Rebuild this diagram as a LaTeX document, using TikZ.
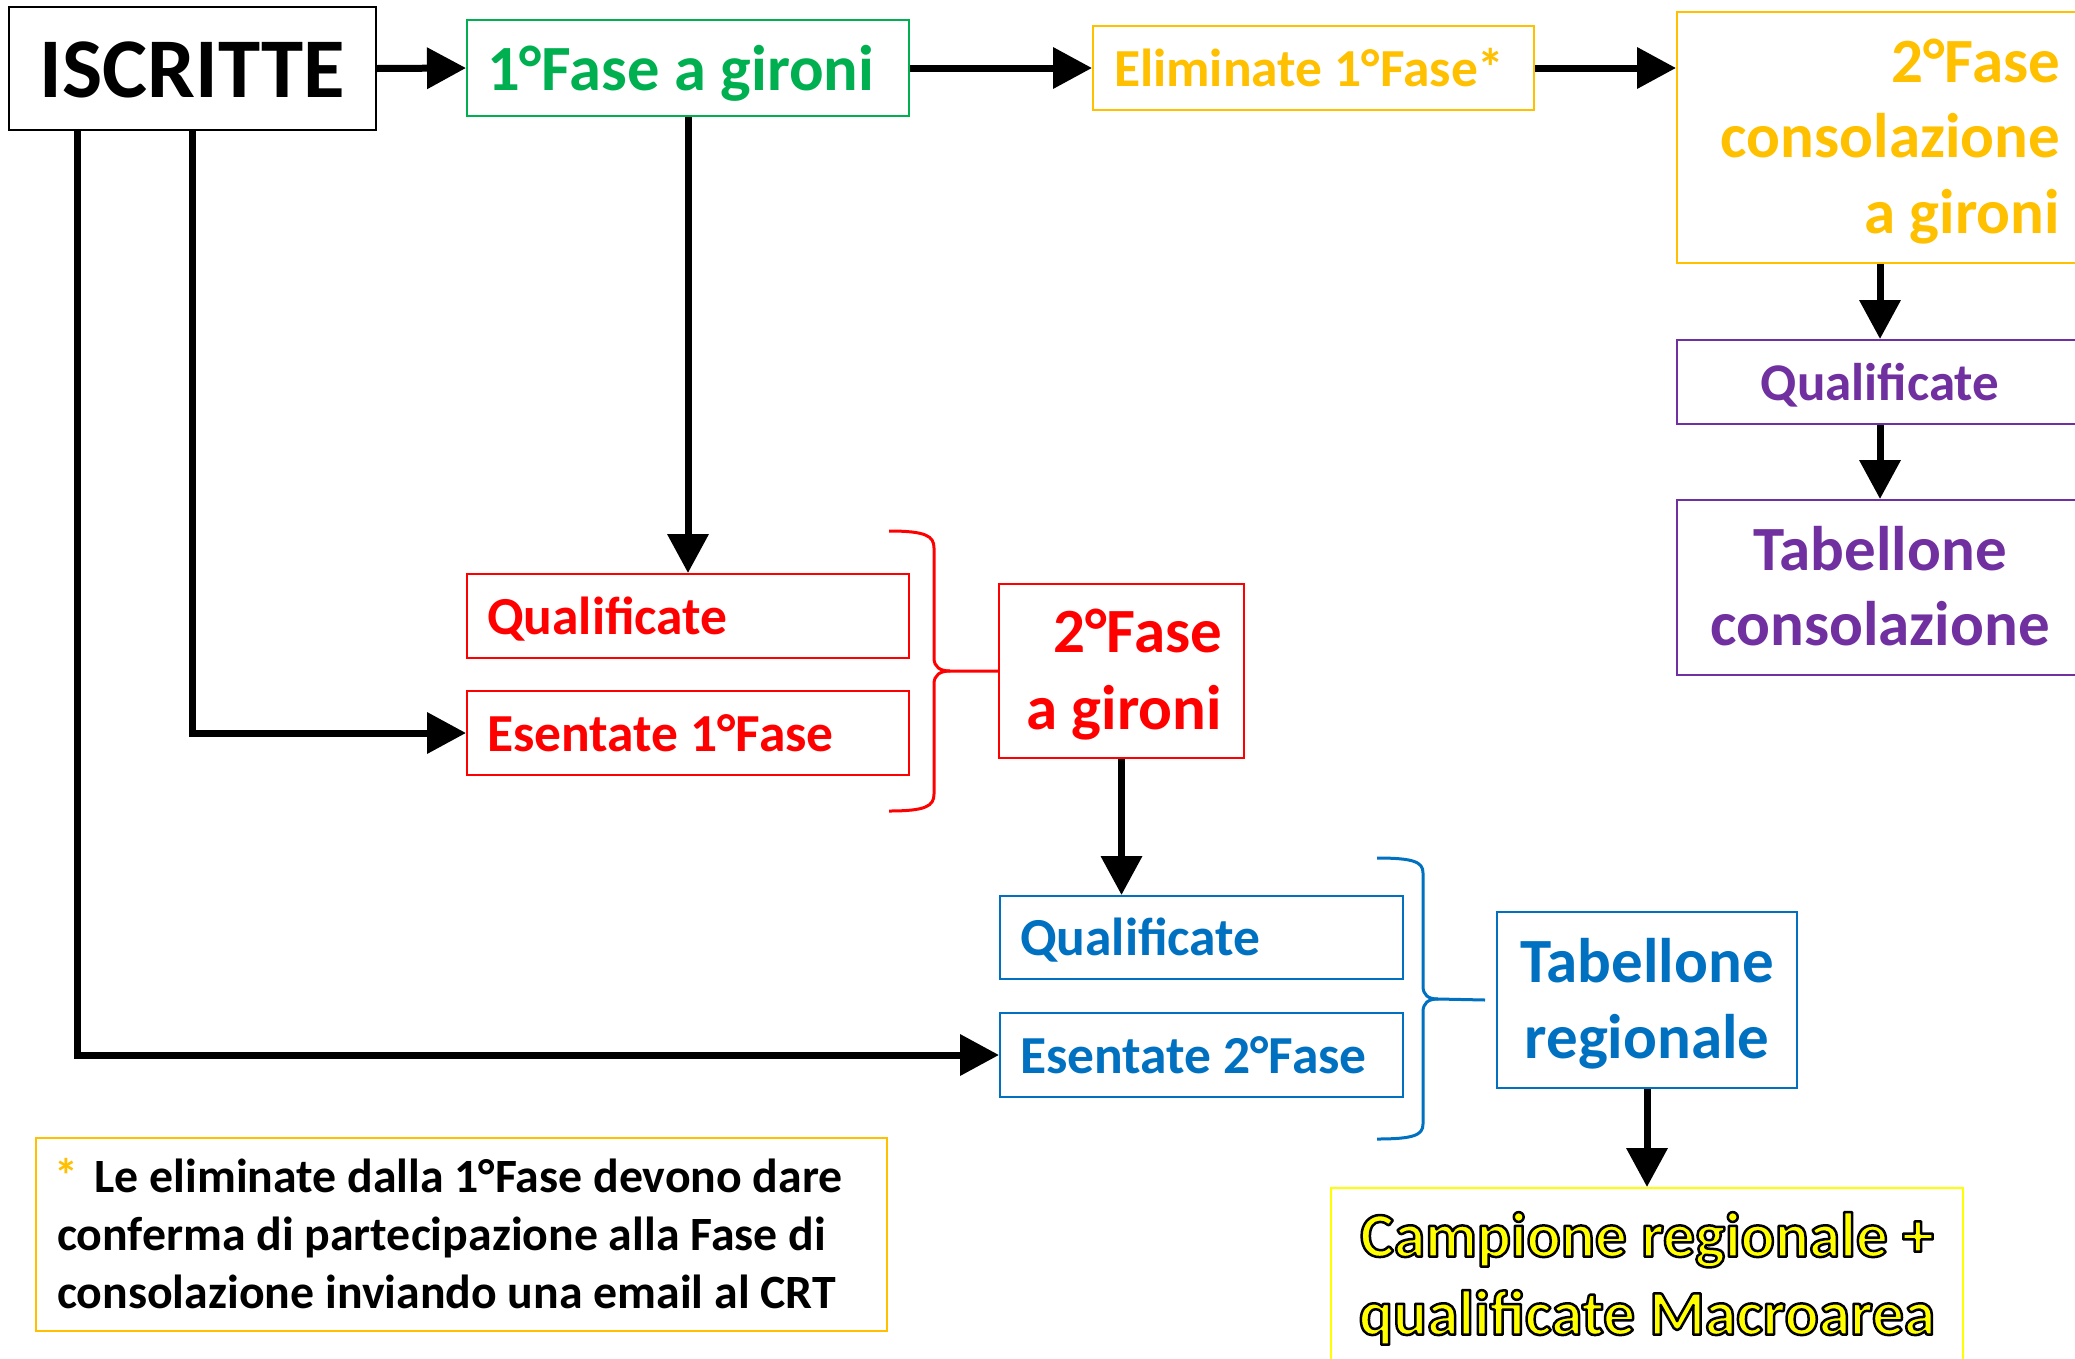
\documentclass[tikz,border=0pt]{standalone}
\usepackage{fontspec}
\setmainfont{Carlito}
\usetikzlibrary{arrows.meta,calc}
\definecolor{cgreen}{HTML}{00B050}
\definecolor{corange}{HTML}{FFC000}
\definecolor{cred}{HTML}{FF0000}
\definecolor{cblue}{HTML}{0070C0}
\definecolor{cpurple}{HTML}{7030A0}
\definecolor{cyellow}{HTML}{FFFF00}
\newcommand\mystrut{\rule[-0.25em]{0pt}{1.15em}}
\newcommand\outl[1]{\special{pdf:literal direct 2 Tr 2.5 w 1 j 0 0 0 RG}#1\special{pdf:literal direct 0 Tr}}
\newcommand\lline[2]{\makebox[#1][l]{#2}}
\newcommand\rline[2]{\makebox[#1][r]{#2}}
\begin{document}
\begin{tikzpicture}[x=1pt,y=-1pt,
  box/.style={draw, line width=2pt, inner sep=0pt, outer sep=1pt},
  fs/.style args={#1/#2}{font=\bfseries\fontsize{#1}{#2}\selectfont},
  onel/.style={text height=#1, text depth=0pt},
  arr/.style={line width=7pt, -{Triangle[length=39pt,width=40pt]}},
  brace/.style={line width=3pt}]
\path[fill=white, use as bounding box] (0,0) rectangle (2075,1358);

% nodes
\node[box, draw=black, minimum width=367pt, minimum height=123pt, onel=57pt, fs=85/100] (isc) at (192.5,68.5) {ISCRITTE};
\node[box, minimum width=442pt, minimum height=96pt, draw=cgreen, text=cgreen, onel=44pt, fs=64.5/75] (g1) at (688,68) {\lline{402pt}{1°Fase a gironi}};
\node[box, minimum width=441pt, minimum height=84pt, draw=corange, text=corange, onel=36pt, fs=53.5/64] (elim) at (1313.5,68) {\lline{399pt}{Eliminate 1°Fase*}};
\node[box, align=center, minimum width=406pt, minimum height=251pt, draw=corange, text=corange, fs=63/75.5] (cons) at (1880,137.5) {\rline{360pt}{\mystrut 2°Fase}\\\rline{360pt}{consolazione}\\\rline{360pt}{a gironi\mystrut}};
\node[box, minimum width=406pt, minimum height=84pt, draw=cpurple, text=cpurple, onel=36pt, fs=53/62] (pq) at (1880,382) {Qualificate};
\node[box, align=center, minimum width=406pt, minimum height=175pt, draw=cpurple, text=cpurple, fs=63/75] (tc) at (1880,587.5) {\mystrut Tabellone\\consolazione\mystrut};

\node[box, minimum width=442pt, minimum height=84pt, draw=cred, text=cred, onel=36pt, fs=53.5/62] (rq) at (688,616) {\lline{402pt}{Qualificate}};
\node[box, minimum width=442pt, minimum height=84pt, draw=cred, text=cred, onel=36pt, fs=53.5/62] (res) at (688,733) {\lline{402pt}{Esentate 1°Fase}};
\node[box, align=center, minimum width=245pt, minimum height=174pt, draw=cred, text=cred, fs=63/77] (r2) at (1121.5,671) {\rline{201pt}{\mystrut 2°Fase}\\\rline{201pt}{a gironi\mystrut}};

\node[box, minimum width=403pt, minimum height=83pt, draw=cblue, text=cblue, onel=36pt, fs=53.5/62] (bq) at (1201.5,937.5) {\lline{363pt}{Qualificate}};
\node[box, minimum width=403pt, minimum height=84pt, draw=cblue, text=cblue, onel=36pt, fs=53.5/62] (bes) at (1201.5,1055) {\lline{363pt}{Esentate 2°Fase}};
\node[box, align=center, minimum width=300pt, minimum height=176pt, draw=cblue, text=cblue, fs=63/76] (tr) at (1647,1000) {\mystrut Tabellone\\regionale\mystrut};

\node[box, align=center, minimum width=632pt, minimum height=174pt, draw=cyellow, text=cyellow, fs=63.5/78] (camp) at (1647,1275) {\mystrut\outl{Campione regionale +}\\\outl{qualificate Macroarea}\mystrut};

\node[box, align=center, minimum width=851pt, minimum height=193pt, draw=corange, text=black, fs=47.8/58] (foot) at (461.5,1234.5) {\lline{809pt}{\hspace{-3pt}\mystrut{\color{corange}*}\hspace{0.35em}Le eliminate dalla 1°Fase devono dare}\\\lline{809pt}{conferma di partecipazione alla Fase di}\\\lline{809pt}{consolazione inviando una email al CRT\mystrut}};

% connectors
\draw[arr] (isc.east) -- (g1.west);
\draw[arr] (g1.east) -- (elim.west);
\draw[arr] (elim.east) -- (elim.east -| cons.west);
\draw[arr] (cons.south) -- (pq.north);
\draw[arr] (pq.south) -- (tc.north);
\draw[arr] (g1.south) -- (rq.north);
\draw[arr] (isc.south) |- (res.west);
\draw[arr] ([xshift=69pt]isc.south west) |- (bes.west);
\draw[arr] (r2.south) -- (r2.south |- bq.north);
\draw[arr] (tr.south) -- (camp.north);

% braces
\coordinate (rbt) at (889,531);
\coordinate (rbb) at (889,811);
\coordinate (rbtip) at (950,671);
\draw[brace, cred] (rbt) .. controls (926,531) and (934,536) .. (934,548) -- (934,658) .. controls (934,667) and (940,671) .. (rbtip) -- (r2.west);
\draw[brace, cred] (rbb) .. controls (926,811) and (934,806) .. (934,794) -- (934,684) .. controls (934,675) and (940,671) .. (rbtip);
\coordinate (bbt) at (1377,858);
\coordinate (bbb) at (1377,1139);
\coordinate (bbtip) at (1438,999);
\coordinate (bbend) at ([xshift=-11pt]tr.west);
\draw[brace, cblue] (bbt) .. controls (1414,858) and (1423,862) .. (1423,873) -- (1423,986) .. controls (1423,995) and (1428,999) .. (bbtip) -- (bbend);
\draw[brace, cblue] (bbb) .. controls (1414,1139) and (1423,1135) .. (1423,1124) -- (1423,1012) .. controls (1423,1003) and (1428,999) .. (bbtip);
\end{tikzpicture}
\end{document}
